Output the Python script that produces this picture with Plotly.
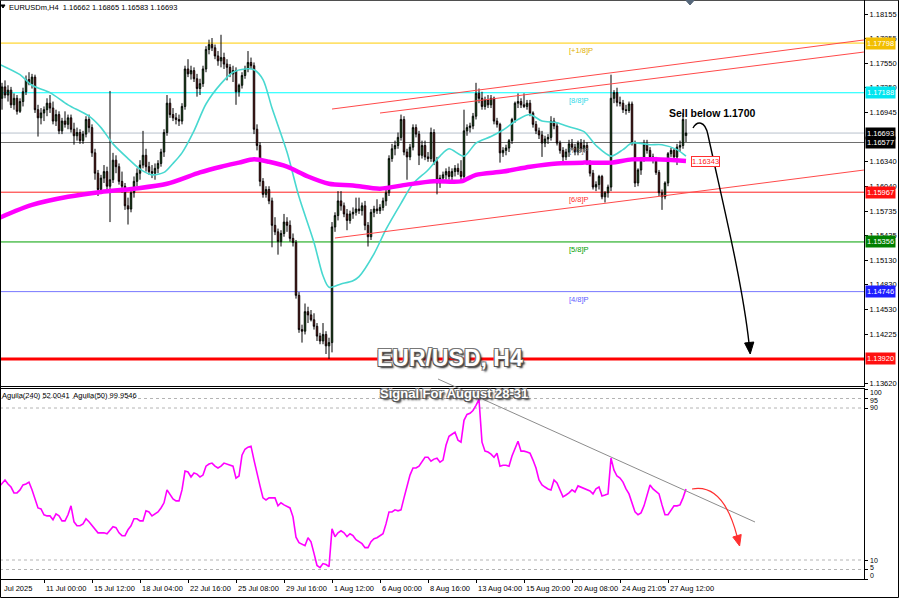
import plotly.graph_objects as go

# ---------------- DATA ----------------
# H4 candles, bar index 2 .. 230 (bar 0 = 8 Jul 08:00, 3 px per bar)
opens = [
    1.1712, 1.1726, 1.1716, 1.1722, 1.1704, 1.1712, 1.1696, 1.1708, 1.1720, 1.1735,
    1.1730, 1.1738, 1.1698, 1.1688, 1.1694, 1.1698, 1.1706, 1.1700, 1.1684, 1.1692,
    1.1672, 1.1684, 1.1680, 1.1688, 1.1674, 1.1666, 1.1670, 1.1660, 1.1668, 1.1686,
    1.1676, 1.1645, 1.1620, 1.1600, 1.1614, 1.1622, 1.1604, 1.1612, 1.1636, 1.1628,
    1.1610, 1.1604, 1.1580, 1.1576, 1.1596, 1.1610, 1.1620, 1.1630, 1.1642, 1.1628,
    1.1622, 1.1620, 1.1626, 1.1632, 1.1646, 1.1670, 1.1706, 1.1692, 1.1688, 1.1686,
    1.1684, 1.1702, 1.1748, 1.1742, 1.1746, 1.1736, 1.1724, 1.1730, 1.1748, 1.1772,
    1.1778, 1.1774, 1.1764, 1.1758, 1.1762, 1.1754, 1.1750, 1.1742, 1.1746, 1.1720,
    1.1728, 1.1740, 1.1748, 1.1756, 1.1752, 1.1674, 1.1654, 1.1610, 1.1594, 1.1600,
    1.1586, 1.1556, 1.1548, 1.1536, 1.1546, 1.1560, 1.1556, 1.1540, 1.1535, 1.1470,
    1.1428, 1.1426, 1.1450, 1.1446, 1.1440, 1.1432, 1.1420, 1.1414, 1.1422, 1.1408,
    1.1412, 1.1554, 1.1568, 1.1586, 1.1580, 1.1570, 1.1562, 1.1570, 1.1572, 1.1576,
    1.1574, 1.1580, 1.1556, 1.1542, 1.1572, 1.1576, 1.1574, 1.1578, 1.1586, 1.1596,
    1.1638, 1.1650, 1.1654, 1.1664, 1.1686, 1.1646, 1.1640, 1.1652, 1.1676, 1.1668,
    1.1642, 1.1654, 1.1640, 1.1638, 1.1670, 1.1634, 1.1608, 1.1614, 1.1618, 1.1622,
    1.1616, 1.1622, 1.1626, 1.1622, 1.1616, 1.1672, 1.1676, 1.1678, 1.1690, 1.1718,
    1.1712, 1.1702, 1.1710, 1.1704, 1.1712, 1.1684, 1.1680, 1.1645, 1.1648, 1.1651,
    1.1660, 1.1686, 1.1706, 1.1708, 1.1704, 1.1702, 1.1706, 1.1694, 1.1680, 1.1672,
    1.1667, 1.1657, 1.1662, 1.1664, 1.1684, 1.1678, 1.1657, 1.1648, 1.1640, 1.1646,
    1.1656, 1.1652, 1.1646, 1.1657, 1.1650, 1.1654, 1.1633, 1.1620, 1.1603, 1.1606,
    1.1616, 1.1591, 1.1596, 1.1603, 1.1712, 1.1719, 1.1707, 1.1706, 1.1698, 1.1697,
    1.1705, 1.1657, 1.1608, 1.1624, 1.1637, 1.1655, 1.1648, 1.1640, 1.1637, 1.1621,
    1.1596, 1.1591, 1.1608, 1.1644, 1.1648, 1.1640, 1.1652, 1.1654, 1.16662,
]
highs = [
    1.1731, 1.1734, 1.1728, 1.1726, 1.1718, 1.1716, 1.1712, 1.1725, 1.1740, 1.1744,
    1.1742, 1.1741, 1.1704, 1.1700, 1.1702, 1.1712, 1.1716, 1.1708, 1.1698, 1.1696,
    1.1688, 1.1696, 1.1692, 1.1692, 1.1682, 1.1676, 1.1674, 1.1672, 1.1690, 1.1692,
    1.1680, 1.1650, 1.1624, 1.1618, 1.1630, 1.1628, 1.1721, 1.1645, 1.1642, 1.1632,
    1.1622, 1.1608, 1.1590, 1.1600, 1.1616, 1.1626, 1.1636, 1.1672, 1.1650, 1.1634,
    1.1630, 1.1632, 1.1636, 1.1650, 1.1674, 1.1716, 1.1712, 1.1700, 1.1694, 1.1692,
    1.1706, 1.1752, 1.1760, 1.1752, 1.1750, 1.1742, 1.1736, 1.1752, 1.1776, 1.1784,
    1.1786, 1.1778, 1.1770, 1.1790, 1.1768, 1.1760, 1.1754, 1.1752, 1.1750, 1.1730,
    1.1744, 1.1752, 1.1770, 1.1762, 1.1756, 1.1680, 1.1658, 1.1614, 1.1604, 1.1604,
    1.1590, 1.1566, 1.1552, 1.1550, 1.1570, 1.1566, 1.1562, 1.1546, 1.1538, 1.1474,
    1.1434, 1.1460, 1.1456, 1.1452, 1.1448, 1.1436, 1.1424, 1.1436, 1.1426, 1.1418,
    1.1560, 1.1572, 1.1598, 1.1598, 1.1584, 1.1576, 1.1574, 1.1578, 1.1590, 1.1590,
    1.1584, 1.1586, 1.1560, 1.1576, 1.1580, 1.1588, 1.1582, 1.1590, 1.1600, 1.1642,
    1.1656, 1.1660, 1.1670, 1.1692, 1.1690, 1.1650, 1.1656, 1.1680, 1.1680, 1.1672,
    1.1660, 1.1660, 1.1646, 1.1676, 1.1674, 1.1640, 1.1618, 1.1622, 1.1626, 1.1628,
    1.1626, 1.1630, 1.1632, 1.1636, 1.1698, 1.1680, 1.1682, 1.1694, 1.1731, 1.1724,
    1.1720, 1.1714, 1.1716, 1.1716, 1.1714, 1.1688, 1.1682, 1.1652, 1.1655, 1.1662,
    1.1688, 1.1708, 1.1718, 1.1712, 1.1718, 1.1710, 1.1710, 1.1696, 1.1684, 1.1676,
    1.1672, 1.1666, 1.1668, 1.1690, 1.1688, 1.1682, 1.1660, 1.1652, 1.1650, 1.1661,
    1.1662, 1.1656, 1.1660, 1.1662, 1.1661, 1.1658, 1.1636, 1.1624, 1.1610, 1.1618,
    1.1618, 1.1598, 1.1606, 1.1741, 1.1722, 1.1725, 1.1714, 1.1710, 1.1704, 1.1708,
    1.1708, 1.1660, 1.1626, 1.1640, 1.1661, 1.1661, 1.1652, 1.1644, 1.1640, 1.1624,
    1.1600, 1.1610, 1.1646, 1.1651, 1.1650, 1.1656, 1.1660, 1.1694, 1.16865,
]
lows = [
    1.1698, 1.1712, 1.1708, 1.1700, 1.1698, 1.1692, 1.1694, 1.1702, 1.1716, 1.1728,
    1.1724, 1.1694, 1.1665, 1.1680, 1.1684, 1.1690, 1.1694, 1.1680, 1.1678, 1.1668,
    1.1668, 1.1676, 1.1674, 1.1670, 1.1655, 1.1660, 1.1656, 1.1656, 1.1664, 1.1670,
    1.1640, 1.1612, 1.1592, 1.1596, 1.1608, 1.1598, 1.1560, 1.1608, 1.1620, 1.1606,
    1.1596, 1.1575, 1.1557, 1.1572, 1.1590, 1.1604, 1.1612, 1.1626, 1.1622, 1.1618,
    1.1614, 1.1612, 1.1620, 1.1628, 1.1640, 1.1666, 1.1688, 1.1684, 1.1680, 1.1678,
    1.1680, 1.1698, 1.1738, 1.1735, 1.1732, 1.1714, 1.1716, 1.1726, 1.1744, 1.1766,
    1.1770, 1.1760, 1.1752, 1.1750, 1.1748, 1.1734, 1.1738, 1.1732, 1.1704, 1.1714,
    1.1724, 1.1736, 1.1744, 1.1748, 1.1668, 1.1648, 1.1604, 1.1590, 1.1590, 1.1582,
    1.1529, 1.1544, 1.1520, 1.1530, 1.1542, 1.1548, 1.1536, 1.1530, 1.1466, 1.1424,
    1.1412, 1.1422, 1.1436, 1.1438, 1.1428, 1.1414, 1.1410, 1.1410, 1.1398, 1.1392,
    1.1400, 1.1548, 1.1562, 1.1574, 1.1566, 1.1550, 1.1558, 1.1564, 1.1568, 1.1570,
    1.1568, 1.1550, 1.1530, 1.1538, 1.1566, 1.1570, 1.1570, 1.1574, 1.1580, 1.1592,
    1.1634, 1.1642, 1.1650, 1.1660, 1.1642, 1.1612, 1.1636, 1.1648, 1.1664, 1.1630,
    1.1638, 1.1636, 1.1634, 1.1634, 1.1630, 1.1594, 1.1602, 1.1608, 1.1612, 1.1612,
    1.1610, 1.1616, 1.1618, 1.1610, 1.1612, 1.1666, 1.1670, 1.1674, 1.1686, 1.1706,
    1.1698, 1.1698, 1.1700, 1.1700, 1.1680, 1.1676, 1.1633, 1.1640, 1.1642, 1.1646,
    1.1656, 1.1682, 1.1700, 1.1700, 1.1700, 1.1698, 1.1690, 1.1676, 1.1668, 1.1662,
    1.1640, 1.1652, 1.1656, 1.1660, 1.1674, 1.1654, 1.1644, 1.1633, 1.1636, 1.1640,
    1.1648, 1.1642, 1.1642, 1.1646, 1.1646, 1.1630, 1.1616, 1.1600, 1.1598, 1.1600,
    1.1588, 1.1584, 1.1590, 1.1598, 1.1706, 1.1702, 1.1702, 1.1694, 1.1692, 1.1694,
    1.1654, 1.1603, 1.1604, 1.1618, 1.1634, 1.1644, 1.1636, 1.1632, 1.1618, 1.1592,
    1.1575, 1.1588, 1.1604, 1.1640, 1.1636, 1.1630, 1.1646, 1.1650, 1.16583,
]
closes = [
    1.1726, 1.1716, 1.1722, 1.1704, 1.1712, 1.1696, 1.1708, 1.1720, 1.1735, 1.1730,
    1.1738, 1.1698, 1.1688, 1.1694, 1.1698, 1.1706, 1.1700, 1.1684, 1.1692, 1.1672,
    1.1684, 1.1680, 1.1688, 1.1674, 1.1666, 1.1670, 1.1660, 1.1668, 1.1686, 1.1676,
    1.1645, 1.1620, 1.1600, 1.1614, 1.1622, 1.1604, 1.1612, 1.1636, 1.1628, 1.1610,
    1.1604, 1.1580, 1.1576, 1.1596, 1.1610, 1.1620, 1.1630, 1.1642, 1.1628, 1.1622,
    1.1620, 1.1626, 1.1632, 1.1646, 1.1670, 1.1706, 1.1692, 1.1688, 1.1686, 1.1684,
    1.1702, 1.1748, 1.1742, 1.1746, 1.1736, 1.1724, 1.1730, 1.1748, 1.1772, 1.1778,
    1.1774, 1.1764, 1.1758, 1.1762, 1.1754, 1.1750, 1.1742, 1.1746, 1.1720, 1.1728,
    1.1740, 1.1748, 1.1756, 1.1752, 1.1674, 1.1654, 1.1610, 1.1594, 1.1600, 1.1586,
    1.1556, 1.1548, 1.1536, 1.1546, 1.1560, 1.1556, 1.1540, 1.1535, 1.1470, 1.1428,
    1.1426, 1.1450, 1.1446, 1.1440, 1.1432, 1.1420, 1.1414, 1.1422, 1.1408, 1.1412,
    1.1554, 1.1568, 1.1586, 1.1580, 1.1570, 1.1562, 1.1570, 1.1572, 1.1576, 1.1574,
    1.1580, 1.1556, 1.1542, 1.1572, 1.1576, 1.1574, 1.1578, 1.1586, 1.1596, 1.1638,
    1.1650, 1.1654, 1.1664, 1.1686, 1.1646, 1.1640, 1.1652, 1.1676, 1.1668, 1.1642,
    1.1654, 1.1640, 1.1638, 1.1670, 1.1634, 1.1608, 1.1614, 1.1618, 1.1622, 1.1616,
    1.1622, 1.1626, 1.1622, 1.1616, 1.1672, 1.1676, 1.1678, 1.1690, 1.1718, 1.1712,
    1.1702, 1.1710, 1.1704, 1.1712, 1.1684, 1.1680, 1.1645, 1.1648, 1.1651, 1.1660,
    1.1686, 1.1706, 1.1708, 1.1704, 1.1702, 1.1706, 1.1694, 1.1680, 1.1672, 1.1667,
    1.1657, 1.1662, 1.1664, 1.1684, 1.1678, 1.1657, 1.1648, 1.1640, 1.1646, 1.1656,
    1.1652, 1.1646, 1.1657, 1.1650, 1.1654, 1.1633, 1.1620, 1.1603, 1.1606, 1.1616,
    1.1591, 1.1596, 1.1603, 1.1712, 1.1719, 1.1707, 1.1706, 1.1698, 1.1697, 1.1705,
    1.1657, 1.1608, 1.1624, 1.1637, 1.1655, 1.1648, 1.1640, 1.1637, 1.1621, 1.1596,
    1.1591, 1.1608, 1.1644, 1.1648, 1.1640, 1.1652, 1.1654, 1.1686, 1.16693,
]
first_bar = 2
bars = list(range(first_bar, first_bar + len(closes)))

# fast moving average (cyan), read at selected bars
fast_ma_bars = [1, 8, 12, 18, 24, 31, 35, 39, 44, 48, 52, 56, 59, 62, 66, 70, 75, 79, 83, 86,
                89, 92, 97, 101, 106, 109, 111, 115, 119, 121, 126, 130, 135, 139, 144, 148, 151, 156, 160, 165,
                169, 174, 178, 182, 187, 191, 196, 200, 205, 209, 212, 218, 222, 227, 230]
fast_ma_vals = [1.1754, 1.1741, 1.1728, 1.1719, 1.1704, 1.1690, 1.1676, 1.1656, 1.1638, 1.1625,
                1.1618, 1.1621, 1.1632, 1.1645, 1.1672, 1.1705, 1.1730, 1.1744, 1.1748, 1.1747,
                1.1735, 1.1700, 1.1646, 1.1591, 1.1535, 1.1494, 1.1480, 1.1484, 1.1488, 1.1493,
                1.1521, 1.1551, 1.1583, 1.1607, 1.1624, 1.1641, 1.1650, 1.1641, 1.1657, 1.1665,
                1.1673, 1.1686, 1.1692, 1.1684, 1.1682, 1.1677, 1.1671, 1.1654, 1.1641, 1.1649,
                1.1657, 1.1655, 1.1655, 1.1649, 1.1641]
# slow moving average (magenta, thick)
slow_ma_bars = [1, 12, 24, 35, 46, 57, 68, 75, 81, 86, 91, 97, 104, 111, 119, 128, 137, 146, 155, 160,
                169, 178, 187, 196, 205, 212, 220, 230]
slow_ma_vals = [1.1565, 1.1581, 1.1591, 1.1597, 1.1601, 1.1607, 1.1621, 1.1628, 1.1633, 1.1637,
                1.1634, 1.1628, 1.1616, 1.1607, 1.1605, 1.1601, 1.1606, 1.1610, 1.1610, 1.1618,
                1.1622, 1.1628, 1.1632, 1.1633, 1.1633, 1.1637, 1.1637, 1.1635]

# oscillator (lower panel), bars 1 .. 230
osc_first_bar = 1
osc_vals = [
    48.4, 50.5, 52.1, 50.0, 48.4, 45.3, 45.3, 46.9, 49.5, 50.0,
    51.0, 47.0, 41.6, 37.4, 36.9, 33.8, 33.2, 33.2, 31.2, 34.3,
    33.2, 30.6, 30.6, 33.8, 38.5, 30.1, 28.0, 28.0, 29.0, 31.7,
    30.1, 28.0, 25.9, 24.3, 24.3, 24.3, 23.8, 25.9, 27.5, 27.0,
    24.3, 22.8, 22.8, 25.9, 28.0, 31.7, 31.7, 30.6, 30.6, 35.9,
    35.3, 33.2, 34.3, 35.3, 37.4, 40.1, 46.9, 44.2, 42.1, 41.1,
    41.1, 46.9, 56.8, 56.3, 53.7, 55.8, 55.2, 53.7, 54.7, 59.4,
    60.5, 61.0, 59.4, 58.4, 59.4, 61.0, 60.5, 59.9, 59.4, 53.1,
    54.2, 65.2, 68.3, 69.4, 69.9, 62.6, 55.2, 49.0, 42.7, 41.6,
    42.7, 42.7, 42.7, 38.5, 40.1, 39.0, 38.0, 37.4, 32.7, 22.0,
    19.1, 18.1, 17.5, 21.7, 19.6, 13.5, 7.1, 6.0, 8.1, 7.6,
    6.5, 26.4, 22.3, 24.3, 25.4, 24.3, 22.3, 23.8, 22.8, 20.7,
    19.6, 18.6, 16.5, 16.5, 19.6, 21.2, 21.7, 22.8, 23.8, 29.0,
    35.3, 35.3, 36.4, 35.9, 36.4, 42.7, 49.5, 54.7, 58.4, 58.4,
    59.4, 61.5, 64.1, 64.1, 62.0, 63.1, 63.6, 61.5, 62.6, 70.4,
    75.1, 76.2, 77.2, 73.0, 72.0, 83.5, 86.6, 87.2, 88.7, 91.4,
    94.5, 72.0, 67.3, 66.8, 65.7, 64.1, 66.2, 59.4, 59.9, 59.9,
    59.4, 64.7, 68.8, 72.5, 67.3, 67.3, 66.8, 66.2, 62.6, 58.4,
    52.1, 49.5, 48.4, 47.4, 46.9, 52.1, 50.5, 46.9, 43.2, 44.2,
    45.3, 46.9, 45.8, 49.0, 48.4, 47.9, 46.9, 46.3, 44.8, 47.4,
    48.4, 43.7, 44.2, 44.8, 63.6, 57.3, 54.2, 53.1, 51.0, 47.4,
    44.8, 40.1, 35.3, 33.8, 34.8, 38.5, 43.7, 49.5, 47.4, 46.3,
    44.8, 39.0, 33.8, 33.8, 36.4, 38.5, 38.5, 39.0, 42.7, 47.4,
]
osc_bars = list(range(osc_first_bar, osc_first_bar + len(osc_vals)))
osc_levels = [95, 90, 10, 5]

# price levels (Murrey-style) and their labels
level_prices = [1.17798, 1.17188, 1.15967, 1.15356, 1.14746, 1.13920]
level_names = ["[+1/8]P", "[8/8]P", "[6/8]P", "[5/8]P", "[4/8]P", ""]
level_line_colors = ["#FFCC00", "#00FFFF", "#FF2020", "#00A000", "#7878FF", "#FF0000"]
level_text_colors = ["#E0B000", "#30D8E8", "#FF3030", "#00A000", "#6060FF", "#FF0000"]
level_box_colors = ["#F2BE00", "#00E6F0", "#FF1010", "#008000", "#1E1EFF", "#FF1010"]
level_widths = [1, 1, 1, 1, 1, 3]
bid_price, seven_eighth = 1.16693, 1.16577
ma_label_price = 1.16343

# channel lines: (start bar, start price, end bar, end price)
channel_lines = [(112, 1.16988, 289.3, 1.17836),
                 (128, 1.16939, 289.3, 1.17688),
                 (113, 1.15404, 289.3, 1.16239)]

# axis ticks (labels fully covered by price tags are omitted)
price_ticks = [1.18155, 1.17855, 1.17550, 1.17250, 1.16945, 1.16340, 1.16040,
               1.15735, 1.15435, 1.15130, 1.14830, 1.14530, 1.14225, 1.13620]
time_tick_bars = [0, 16, 32, 48, 64, 80, 96, 112, 128, 144, 160, 176, 192, 208, 224]
time_tick_labels = ["Jul 2025", "11 Jul 00:00", "15 Jul 12:00", "18 Jul 04:00", "22 Jul 16:00",
                    "25 Jul 08:00", "29 Jul 16:00", "1 Aug 12:00", "6 Aug 00:00", "8 Aug 16:00",
                    "13 Aug 04:00", "15 Aug 20:00", "20 Aug 08:00", "24 Aug 21:05", "27 Aug 12:00"]
osc_ticks = [0, 5, 10, 90, 95, 100]

# ---------------- LAYOUT GEOMETRY ----------------
W, H = 900, 600
PLOT_R = 864
MAIN_B = 386
IND_T, IND_B = 389, 579
X_RANGE = [4 / 3, (PLOT_R + 4) / 3]
Y_RANGE = [1.13587, 1.18327]
FONT = "Liberation Sans, Arial, sans-serif"


def fx(px):
    return px / W


def fy(py):
    return 1 - py / H


def bar_px(b):
    return 3 * b - 4


def path(*segs):
    out = []
    for cmd, *pts in segs:
        out.append(cmd + " " + " ".join(f"{fx(a):.5f},{fy(b):.5f}" for a, b in pts))
    return " ".join(out)


fig = go.Figure()

fig.add_trace(go.Candlestick(
    x=bars, open=opens, high=highs, low=lows, close=closes,
    increasing=dict(line=dict(color="#000000", width=1), fillcolor="#2EA52E"),
    decreasing=dict(line=dict(color="#000000", width=1), fillcolor="#CC1F1F"),
    whiskerwidth=0, xaxis="x", yaxis="y", showlegend=False, hoverinfo="skip"))

fig.add_trace(go.Scatter(x=fast_ma_bars, y=fast_ma_vals, mode="lines",
                         line=dict(color="#48D8D0", width=1.6, shape="spline", smoothing=0.8),
                         xaxis="x", yaxis="y", showlegend=False, hoverinfo="skip"))
fig.add_trace(go.Scatter(x=slow_ma_bars, y=slow_ma_vals, mode="lines",
                         line=dict(color="#FF00FF", width=4.5, shape="spline", smoothing=0.8),
                         xaxis="x", yaxis="y", showlegend=False, hoverinfo="skip"))

fig.add_trace(go.Scatter(x=osc_bars, y=osc_vals, mode="lines",
                         line=dict(color="#FF00FF", width=1.6),
                         xaxis="x2", yaxis="y2", showlegend=False, hoverinfo="skip"))

shapes = []
annotations = []


def price_tag(p, bg, fg="#FFFFFF"):
    annotations.append(dict(xref="paper", yref="y", x=fx(PLOT_R + 1), y=p, text=f"{p:.5f}", showarrow=False,
                            xanchor="left", yanchor="middle", bgcolor=bg, borderpad=1,
                            font=dict(family=FONT, size=7.5, color=fg)))


# horizontal price levels
for p, name, lc, tc, bc, lw in zip(level_prices, level_names, level_line_colors, level_text_colors,
                                   level_box_colors, level_widths):
    shapes.append(dict(type="line", xref="paper", yref="y", x0=0, x1=fx(PLOT_R), y0=p, y1=p,
                       line=dict(color=lc, width=lw), layer="below"))
    if name:
        annotations.append(dict(xref="paper", yref="y", x=fx(567), y=p, text=name, showarrow=False,
                                xanchor="left", yanchor="top", yshift=-1,
                                font=dict(family=FONT, size=7.5, color=tc)))
    price_tag(p, bc)

# bid line and [7/8] level
shapes.append(dict(type="line", xref="paper", yref="y", x0=0, x1=fx(PLOT_R), y0=bid_price, y1=bid_price,
                   line=dict(color="#B8C2CC", width=1), layer="below"))
shapes.append(dict(type="line", xref="paper", yref="y", x0=0, x1=fx(PLOT_R), y0=seven_eighth, y1=seven_eighth,
                   line=dict(color="#6E6E6E", width=1), layer="below"))
annotations.append(dict(xref="paper", yref="y", x=fx(567), y=seven_eighth, text="[7/8]P", showarrow=False,
                        xanchor="left", yanchor="top", yshift=-1,
                        font=dict(family=FONT, size=7.5, color="#6E6E6E")))
price_tag(bid_price, "#000000")
price_tag(seven_eighth, "#000000")

# MA value tag
annotations.append(dict(xref="paper", yref="y", x=fx(691), y=ma_label_price, text=f"{ma_label_price:.5f}",
                        showarrow=False, xanchor="left", yanchor="middle", bgcolor="#FFFFFF",
                        bordercolor="#FF3030", borderwidth=1, borderpad=0,
                        font=dict(family=FONT, size=7.5, color="#FF2020")))

# channel lines
for b0, p0, b1, p1 in channel_lines:
    shapes.append(dict(type="line", xref="x", yref="y", x0=b0, y0=p0, x1=b1, y1=p1,
                       line=dict(color="#FF4A4A", width=1)))

# oscillator dashed levels
for lv in osc_levels:
    shapes.append(dict(type="line", xref="paper", yref="y2", x0=0, x1=fx(PLOT_R), y0=lv, y1=lv,
                       line=dict(color="#B4B4B4", width=1, dash="dot"), layer="below"))

# oscillator scale labels (MT4 nudges the crowded ones apart)
osc_label_px = [575, 567, 560, 407, 400, 392]
for v, py in zip(osc_ticks, osc_label_px):
    annotations.append(dict(xref="paper", yref="paper", x=fx(PLOT_R + 4), y=fy(py), text=str(v),
                            showarrow=False, xanchor="left", yanchor="middle",
                            font=dict(family=FONT, size=7, color="#000000")))

# oscillator trend line
shapes.append(dict(type="line", xref="paper", yref="paper", x0=fx(438), y0=fy(379), x1=fx(755), y1=fy(522),
                   line=dict(color="#8C8C8C", width=1)))

# black curved arrow (price)
shapes.append(dict(type="path", xref="paper", yref="paper",
                   path=path(("M", (693, 128)), ("C", (697, 121), (705, 120), (708, 135)),
                             ("C", (722, 200), (742, 280), (749, 343))),
                   line=dict(color="#000000", width=1.4)))
shapes.append(dict(type="path", xref="paper", yref="paper",
                   path=path(("M", (750.2, 354)), ("L", (753.8, 342)), ("L", (744.6, 343))) + " Z",
                   line=dict(color="#000000", width=1), fillcolor="#000000"))

# red curved arrow (oscillator)
shapes.append(dict(type="path", xref="paper", yref="paper",
                   path=path(("M", (692, 489)), ("C", (708, 486), (726, 494), (737, 536))),
                   line=dict(color="#FF3030", width=1.2)))
shapes.append(dict(type="path", xref="paper", yref="paper",
                   path=path(("M", (739.6, 546)), ("L", (741.2, 534.5)), ("L", (732.8, 537))) + " Z",
                   line=dict(color="#FF3030", width=1), fillcolor="#FF3030"))

# outer frame, header triangle, chart-shift marker
shapes.append(dict(type="rect", xref="paper", yref="paper", x0=fx(0.5), x1=fx(898.5), y0=fy(597.5), y1=fy(0.2),
                   line=dict(color="#000000", width=1)))
shapes.append(dict(type="path", xref="paper", yref="paper",
                   path=path(("M", (1, 5)), ("L", (5, 5)), ("L", (3, 8))) + " Z",
                   line=dict(color="#000000", width=1), fillcolor="#000000"))
shapes.append(dict(type="path", xref="paper", yref="paper",
                   path=path(("M", (686, 0.5)), ("L", (694, 0.5)), ("L", (690, 5))) + " Z",
                   line=dict(color="#56677A", width=1), fillcolor="#56677A"))

# texts
annotations.append(dict(xref="paper", yref="paper", x=fx(7), y=fy(7),
                        text="EURUSDm,H4  1.16662 1.16865 1.16583 1.16693", showarrow=False,
                        xanchor="left", yanchor="middle", font=dict(family=FONT, size=7.5, color="#000000")))
annotations.append(dict(xref="paper", yref="paper", x=fx(0), y=fy(395),
                        text="Aguila(240) 52.0041  Aguila(50) 99.9546", showarrow=False,
                        xanchor="left", yanchor="middle", font=dict(family=FONT, size=7.5, color="#000000")))
annotations.append(dict(xref="paper", yref="paper", x=fx(667), y=fy(113), text="<b>Sell below 1.1700</b>",
                        showarrow=False, xanchor="left", yanchor="middle",
                        font=dict(family=FONT, size=10.5, color="#000000")))
shadow_big = "1px 1px 0px #555, -1px -1px 0px #777, 1px -1px 0px #777, -1px 1px 0px #555, 2px 2px 2px #222"
annotations.append(dict(xref="paper", yref="paper", x=fx(450), y=fy(358), text="<b>EUR/USD, H4</b>",
                        showarrow=False, xanchor="center", yanchor="middle",
                        font=dict(family=FONT, size=23, color="#FFFFFF", shadow=shadow_big)))
annotations.append(dict(xref="paper", yref="paper", x=fx(454), y=fy(393), text="<b>Signal For August 28-31</b>",
                        showarrow=False, xanchor="center", yanchor="middle",
                        font=dict(family=FONT, size=13, color="#FFFFFF", shadow=shadow_big)))

# time axis labels (left aligned at tick, MT4 style; first one clipped at the left edge)
for b, lab in zip(time_tick_bars, time_tick_labels):
    annotations.append(dict(xref="paper", yref="paper", x=fx(max(bar_px(b), 2)), y=fy(588), text=lab,
                            showarrow=False, xanchor="left", yanchor="middle",
                            font=dict(family=FONT, size=7.5, color="#000000")))

axis_common = dict(showgrid=False, zeroline=False, showline=True, linecolor="#000000", linewidth=1,
                   mirror=True, fixedrange=True, automargin=False)

fig.update_layout(
    width=W, height=H, margin=dict(l=0, r=0, t=0, b=0, pad=0), autosize=False,
    paper_bgcolor="#FFFFFF", plot_bgcolor="#FFFFFF", showlegend=False,
    xaxis=dict(domain=[0, fx(PLOT_R)], range=X_RANGE, anchor="y", showticklabels=False, ticks="",
               rangeslider=dict(visible=False), **axis_common),
    yaxis=dict(domain=[fy(MAIN_B), 1], range=Y_RANGE, anchor="x", side="right",
               tickvals=price_ticks, ticktext=[f"{v:.5f}" for v in price_ticks],
               ticks="outside", ticklen=3, tickcolor="#000000",
               tickfont=dict(family=FONT, size=7.5, color="#000000"), **axis_common),
    xaxis2=dict(domain=[0, fx(PLOT_R)], range=X_RANGE, anchor="y2", showticklabels=False,
                tickvals=time_tick_bars, ticks="outside", ticklen=3, tickcolor="#000000", **axis_common),
    yaxis2=dict(domain=[fy(IND_B), fy(IND_T)], range=[0, 100], anchor="x2", side="right",
                tickvals=osc_ticks, showticklabels=False,
                ticks="outside", ticklen=3, tickcolor="#000000", **axis_common),
    shapes=shapes, annotations=annotations,
)

fig.write_html("out.html", config={"displayModeBar": False, "staticPlot": True},
               post_script="document.body.style.margin='0px';document.body.style.overflow='hidden';")
